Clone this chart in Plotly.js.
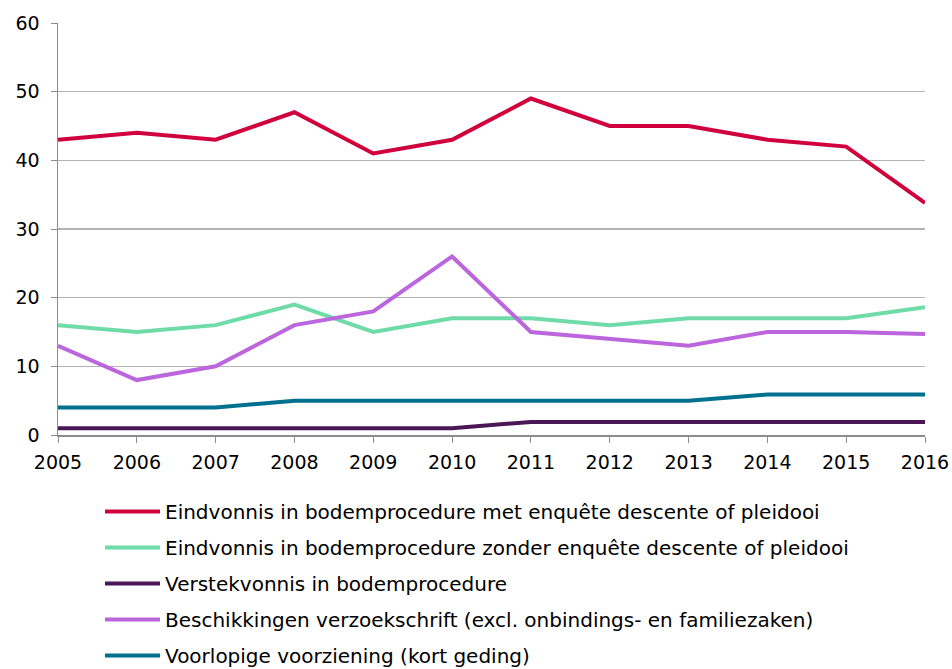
<!DOCTYPE html>
<html><head><meta charset="utf-8">
<script src="https://cdn.plot.ly/plotly-3.0.1.min.js"></script>
<style>html,body{margin:0;background:#fff;overflow:hidden}#c{width:952px;height:700px}</style>
</head><body><div id="c"></div>
<script>
const years = [2005,2006,2007,2008,2009,2010,2011,2012,2013,2014,2015,2016];
const names = [
  "Eindvonnis in bodemprocedure met enquête descente of pleidooi",
  "Eindvonnis in bodemprocedure zonder enquête descente of pleidooi",
  "Verstekvonnis in bodemprocedure",
  "Beschikkingen verzoekschrift (excl. onbindings- en familiezaken)",
  "Voorlopige voorziening (kort geding)"
];
const metEnquete   = [43,44,43,47,41,43,49,45,45,43,42,33.8];
const zonderEnquete= [16,15,16,19,15,17,17,16,17,17,17,18.6];
const verstek      = [1,1,1,1,1,1,1.9,1.9,1.9,1.9,1.9,1.9];
const beschikking  = [13,8,10,16,18,26,15,14,13,15,15,14.7];
const voorlopig    = [4,4,4,5,5,5,5,5,5,5.9,5.9,5.9];
const colors = ["#d0003f","#6fdba8","#4b1656","#bb66dd","#00708f"];
const series = [metEnquete, zonderEnquete, verstek, beschikking, voorlopig];
const traces = series.map((s,i)=>({
  x: years, y: s, name: names[i], type:'scatter', mode:'lines',
  line:{color:colors[i], width:4}, legendgroup:'g'+i
}));
const H = 700;
const layout = {
  width:952, height:H,
  margin:{l:58, r:27, t:23, b:H-435},
  font:{family:'DejaVu Sans, Verdana, sans-serif', size:19, color:'#000'},
  paper_bgcolor:'#fff', plot_bgcolor:'#fff',
  xaxis:{range:[2005,2016], tickvals:years, showgrid:false, zeroline:false, automargin:false,
    showline:true, linecolor:'#8c8c8c', linewidth:1.5, ticks:'outside', ticklen:6, tickcolor:'#8c8c8c', ticklabelstandoff:4},
  yaxis:{range:[0,60], tickvals:[0,10,20,30,40,50,60], showgrid:true, gridcolor:'#b3b3b3', gridwidth:1.5, automargin:false,
    zeroline:false, showline:true, linecolor:'#8c8c8c', linewidth:1.5, ticks:'outside', ticklen:6, tickcolor:'#8c8c8c', ticklabelstandoff:7},
  showlegend:true,
  legend:{orientation:'v', x:(100-58)/867, xanchor:'left', y:-(492-435)/412, yanchor:'top',
    traceorder:'grouped', tracegroupgap:7, itemwidth:55, font:{size:20}}
};
Plotly.newPlot('c', traces, layout, {displayModeBar:false, staticPlot:true});
</script></body></html>
